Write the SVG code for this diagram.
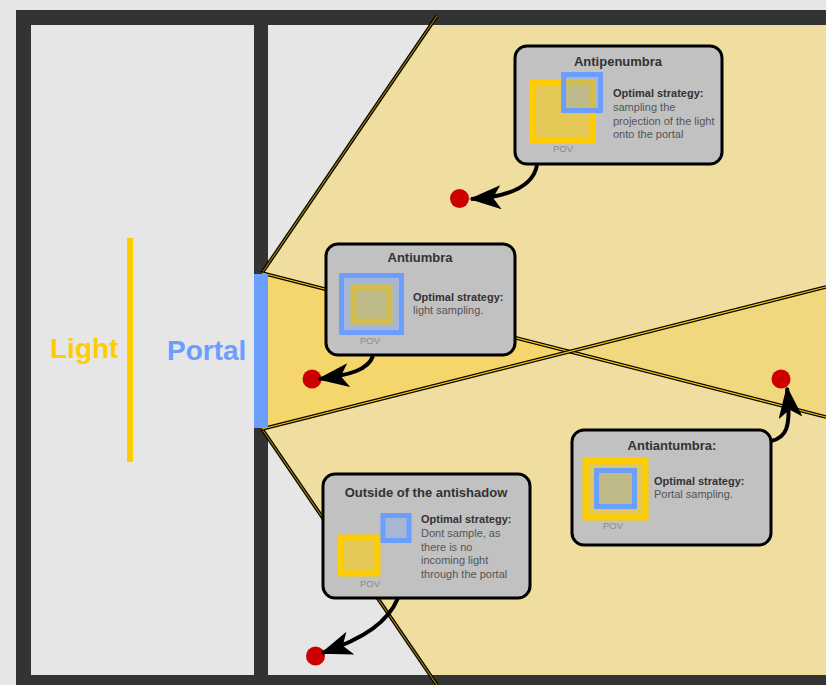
<svg xmlns="http://www.w3.org/2000/svg" width="826" height="685" viewBox="0 0 826 685">
  <style>
    .box { fill: #C1C1C1; stroke: #000; stroke-width: 3; }
    .title { font-family: "Liberation Sans", Arial, sans-serif; font-size: 13px; font-weight: bold; fill: #333; text-anchor: middle; }
    .strat { font-family: "Liberation Sans", Arial, sans-serif; font-size: 11px; font-weight: bold; fill: #333; }
    .body { font-family: "Liberation Sans", Arial, sans-serif; font-size: 11px; fill: #555; }
    .pov { font-family: "Liberation Sans", Arial, sans-serif; font-size: 9.5px; fill: #8A8A8A; text-anchor: middle; }
    .ysq { fill: #FFCC00; fill-opacity: 0.55; stroke: #FFCC00; stroke-width: 6; }
    .bsq { fill: #6C9EFF; fill-opacity: 0.3; stroke: #6C9EFF; stroke-width: 5; }
    .edgeOut { stroke: #000; stroke-width: 3.6; fill: none; }
    .edgeIn { stroke-width: 1.2; fill: none; }
    .conn { stroke: #000; stroke-width: 4; fill: none; }
    .dot { fill: #CC0000; }
    .big { font-family: "Liberation Sans", Arial, sans-serif; font-size: 28px; font-weight: bold; }
  </style>
  <defs>
    <marker id="arrow" viewBox="0 0 32 24" refX="30" refY="12" markerWidth="32" markerHeight="24" markerUnits="userSpaceOnUse" orient="auto">
      <path d="M0,0 L32,12 L0,24 L8,12 Z" fill="#000"/>
    </marker>
  </defs>

  <!-- background and frame -->
  <rect x="0" y="0" width="826" height="685" fill="#E6E6E6"/>
  <rect x="16" y="10" width="830" height="690" fill="#333333"/>
  <rect x="31" y="25" width="223" height="650" fill="#E6E6E6"/>
  <rect x="268" y="25" width="570" height="650" fill="#E6E6E6"/>

  <!-- regions -->
  <g id="regions">
    <polygon points="262,273 431.5,25 826,25 826,675 429.6,675 262,429" fill="#EFDEA0"/>
    <polygon points="262,273 569.6,351.5 262,429" fill="#F4D66C"/>
    <polygon points="569.6,351.5 826,287 826,417" fill="#F1D87E"/>
  </g>

  <!-- region boundary lines -->
  <g id="boundaries">
    <line class="edgeOut" x1="262" y1="273" x2="437" y2="16"/>
    <line class="edgeIn" stroke="#A08000" x1="262" y1="273" x2="437" y2="16"/>
    <line class="edgeOut" x1="262" y1="429" x2="437" y2="685"/>
    <line class="edgeIn" stroke="#A08000" x1="262" y1="429" x2="437" y2="685"/>
    <line class="edgeOut" x1="262" y1="273" x2="826" y2="417"/>
    <line class="edgeIn" stroke="#FFCC00" x1="262" y1="273" x2="826" y2="417"/>
    <line class="edgeOut" x1="262" y1="429" x2="826" y2="287"/>
    <line class="edgeIn" stroke="#FFCC00" x1="262" y1="429" x2="826" y2="287"/>
  </g>

  <g id="light">
    <rect x="127" y="238" width="6" height="224" fill="#FFCC00"/>
    <text class="big" x="50" y="358" fill="#FFCC00">Light</text>
  </g>

  <g id="portal">
    <rect x="254" y="274" width="14" height="154" fill="#6C9EFF"/>
    <text class="big" x="167" y="360" fill="#6C9EFF">Portal</text>
  </g>

  <g id="antipenumbra">
    <rect class="box" x="515" y="46" width="207" height="118" rx="12"/>
    <text class="title" x="618" y="66">Antipenumbra</text>
    <rect class="ysq" x="532" y="82" width="60" height="58"/>
    <rect class="bsq" x="563.5" y="74.5" width="37" height="36"/>
    <text class="pov" x="563" y="152">POV</text>
    <text class="strat" x="613" y="97">Optimal strategy:</text>
    <text class="body" x="613" y="111">sampling the</text>
    <text class="body" x="613" y="124.5">projection of the light</text>
    <text class="body" x="613" y="138">onto the portal</text>
  </g>

  <g id="antiumbra">
    <rect class="box" x="326" y="244" width="189" height="111" rx="12"/>
    <text class="title" x="420" y="262">Antiumbra</text>
    <rect class="ysq" x="353.5" y="287.5" width="36" height="34"/>
    <rect class="bsq" x="341.5" y="275.5" width="60" height="57"/>
    <text class="pov" x="370" y="344">POV</text>
    <text class="strat" x="413" y="301">Optimal strategy:</text>
    <text class="body" x="413" y="314">light sampling.</text>
  </g>

  <g id="antiantumbra">
    <rect class="box" x="572" y="430" width="199" height="115" rx="12"/>
    <text class="title" x="672" y="450">Antiantumbra:</text>
    <rect class="ysq" x="585.5" y="460.5" width="60" height="57"/>
    <rect class="bsq" x="596.5" y="470.5" width="38" height="36"/>
    <text class="pov" x="613" y="529">POV</text>
    <text class="strat" x="654" y="485">Optimal strategy:</text>
    <text class="body" x="654" y="498">Portal sampling.</text>
  </g>

  <g id="outside">
    <rect class="box" x="323" y="474" width="207" height="124" rx="12"/>
    <text class="title" x="426" y="497">Outside of the antishadow</text>
    <rect class="ysq" x="340.5" y="537.5" width="37" height="36"/>
    <rect class="bsq" x="383" y="515.5" width="26" height="25"/>
    <text class="pov" x="370" y="587">POV</text>
    <text class="strat" x="421" y="523">Optimal strategy:</text>
    <text class="body" x="421" y="537">Dont sample, as</text>
    <text class="body" x="421" y="550.5">there is no</text>
    <text class="body" x="421" y="564">incoming light</text>
    <text class="body" x="421" y="577.5">through the portal</text>
  </g>

  <g id="point-antipenumbra"><circle class="dot" cx="459.5" cy="198.5" r="9.5"/></g>
  <g id="point-antiumbra"><circle class="dot" cx="312" cy="379" r="9.5"/></g>
  <g id="point-antiantumbra"><circle class="dot" cx="781" cy="379" r="9.5"/></g>
  <g id="point-outside"><circle class="dot" cx="315.5" cy="656" r="9.5"/></g>

  <g id="connectors">
    <path class="conn" d="M537,165 C533,188 505,197 471,199" marker-end="url(#arrow)"/>
    <path class="conn" d="M373,356 C368,370 350,375 319,379" marker-end="url(#arrow)"/>
    <path class="conn" d="M771,441 C785,438 792,430 787,388" marker-end="url(#arrow)"/>
    <path class="conn" d="M398,598 C388,622 365,638 322,653" marker-end="url(#arrow)"/>
  </g>
</svg>
